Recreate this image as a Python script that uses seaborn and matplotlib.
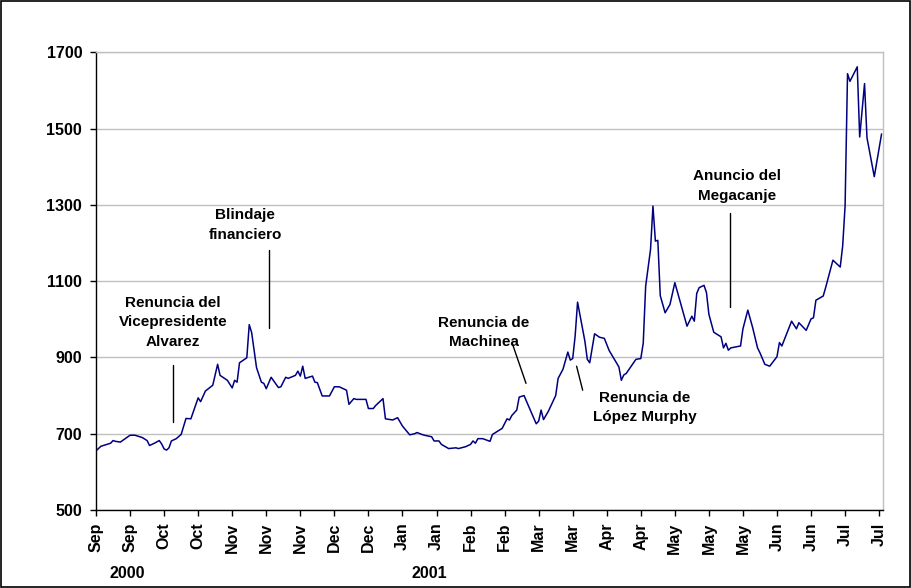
import pandas as pd
import matplotlib
matplotlib.use("Agg")
import matplotlib.pyplot as plt
import matplotlib.transforms as mtransforms
from matplotlib.patches import Rectangle
import seaborn as sns

# riesgo pais (puntos basicos), dias contados desde el 6-sep-2000
inicio = pd.Timestamp("2000-09-06")
dias = [0, 2, 4, 6, 7, 8, 10, 12, 14, 16, 19, 21, 22, 24, 26, 27, 28, 29, 30, 31,
        33, 35, 37, 39, 42, 43, 45, 48, 50, 51, 54, 56, 57, 58, 59, 62, 63, 64, 66, 68,
        69, 70, 72, 75, 76, 78, 79, 82, 83, 84, 85, 86, 89, 90, 91, 93, 96, 98, 100, 103,
        104, 106, 107, 111, 112, 114, 115, 118, 119, 122, 124, 126, 129, 131, 132, 134, 135, 138, 139, 141,
        142, 145, 148, 149, 152, 154, 155, 156, 157, 159, 162, 163, 167, 169, 170, 171, 173, 174, 176, 177,
        181, 182, 183, 184, 186, 189, 190, 192, 194, 195, 196, 197, 198, 201, 202, 203, 205, 207, 209, 211,
        215, 216, 217, 218, 222, 224, 225, 226, 228, 229, 230, 231, 232, 234, 236, 238, 243, 245, 246, 247,
        248, 250, 251, 252, 254, 257, 258, 259, 260, 261, 265, 266, 268, 270, 272, 273, 275, 277, 280, 281,
        282, 286, 288, 289, 292, 294, 295, 296, 299, 300, 303, 306, 307, 308, 309, 310, 313, 314, 316, 317,
        320, 323]
riesgo = [655, 667, 671, 675, 682, 680, 678, 687, 696, 696, 690, 682, 669, 675, 682, 673, 660, 657, 663, 681,
          687, 698, 740, 739, 794, 784, 812, 827, 882, 853, 840, 820, 840, 835, 886, 899, 986, 965, 873, 835,
          832, 818, 848, 821, 823, 848, 845, 853, 864, 851, 877, 845, 851, 835, 834, 799, 799, 823, 823, 814,
          777, 792, 790, 790, 766, 766, 774, 792, 739, 736, 742, 720, 697, 700, 703, 698, 696, 692, 681, 681,
          672, 661, 663, 661, 666, 672, 681, 675, 687, 687, 680, 698, 714, 739, 736, 748, 762, 796, 800, 785,
          726, 733, 762, 737, 759, 800, 845, 869, 914, 893, 897, 956, 1045, 943, 895, 886, 962, 953, 950, 918,
          875, 840, 854, 858, 895, 897, 937, 1087, 1183, 1297, 1205, 1207, 1062, 1017, 1039, 1096, 982, 1008, 995, 1068,
          1083, 1089, 1070, 1013, 966, 954, 925, 937, 919, 925, 930, 975, 1024, 978, 925, 912, 882, 877, 902, 939,
          930, 995, 975, 991, 971, 1001, 1004, 1050, 1061, 1083, 1155, 1137, 1192, 1297, 1644, 1624, 1662, 1478, 1618, 1476,
          1374, 1486]

meses = ["Sep", "Sep", "Oct", "Oct", "Nov", "Nov", "Nov", "Dec", "Dec", "Jan", "Jan", "Feb",
         "Feb", "Mar", "Mar", "Apr", "Apr", "May", "May", "May", "Jun", "Jun", "Jul", "Jul"]
anios = ["2000", "2001"]
anios_dia = [12.7, 137]

# texto, (dia, valor) del texto, tramo de la linea guia
eventos = [
    ("Renuncia del\nVicepresidente\nAlvarez", 31.7, 992, (31.8, 879), (31.8, 730)),
    ("Blindaje\nfinanciero", 61.3, 1247, (71.3, 1181), (71.3, 978)),
    ("Renuncia de\nMachinea", 159.5, 965, (171.3, 934), (176.8, 832)),
    ("Renuncia de\nLópez Murphy", 225.7, 769, (197.6, 877), (200.1, 814)),
    ("Anuncio del\nMegacanje", 263.6, 1350, (260.7, 1280), (260.7, 1031)),
]


def fecha(d):
    return inicio + pd.Timedelta(days=d)


fechas = inicio + pd.to_timedelta(dias, unit="D")
df = pd.DataFrame({"fecha": fechas, "riesgo": riesgo})

sns.set_style("white")
plt.rcParams["font.family"] = ["Liberation Sans", "DejaVu Sans"]
plt.rcParams["text.color"] = "black"
plt.rcParams["xtick.color"] = "black"
plt.rcParams["ytick.color"] = "black"

fig = plt.figure(figsize=(9.11, 5.88), dpi=100)
ax = fig.add_axes([0.1054, 0.1327, 0.8639, 0.7783])

sns.lineplot(data=df, x="fecha", y="riesgo", color="#000080", lw=1.1, ax=ax)

ax.set_xlim(fecha(0), fecha(323.6))
ax.set_ylim(500, 1700)
ax.set_yticks(range(500, 1701, 200))
ax.set_xticks(pd.date_range(inicio, periods=len(meses), freq="14D"))
ax.set_xticklabels(meses, rotation=90, fontsize=11.5, fontweight="bold")
for lab in ax.get_yticklabels():
    lab.set_fontweight("bold")
    lab.set_fontsize(11.5)
ax.set_xlabel("")
ax.set_ylabel("")

ax.yaxis.grid(True, color="#c0c0c0", lw=1)
ax.xaxis.grid(False)
ax.tick_params(axis="both", direction="out", length=4, width=1, color="black",
               labelcolor="black", bottom=True, left=True)
ax.tick_params(axis="x", pad=5)
ax.tick_params(axis="y", pad=6)
for s in ["left", "bottom"]:
    ax.spines[s].set_color("black")
    ax.spines[s].set_linewidth(1)
for s in ["top", "right"]:
    ax.spines[s].set_color("#c0c0c0")
    ax.spines[s].set_linewidth(1)

trans = mtransforms.blended_transform_factory(ax.transData, ax.transAxes)
for txt, d in zip(anios, anios_dia):
    ax.text(fecha(d), -0.138, txt, transform=trans, ha="center", va="center",
            fontsize=11.5, fontweight="bold", color="black")

for txt, tx, ty, p1, p2 in eventos:
    ax.text(fecha(tx), ty, txt, ha="center", va="center", multialignment="center",
            fontsize=11, fontweight="bold", linespacing=1.5, color="black")
    ax.plot([fecha(p1[0]), fecha(p2[0])], [p1[1], p2[1]], color="black", lw=1)

fig.patches.append(Rectangle((0.001, 0.001), 0.998, 0.997, transform=fig.transFigure,
                             fill=False, edgecolor="black", lw=1.2))

fig.savefig("out.png", dpi=100)
